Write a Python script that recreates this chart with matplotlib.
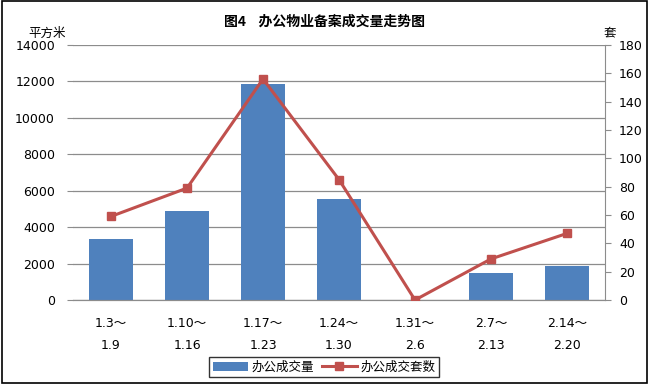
import numpy as np
import matplotlib.pyplot as plt
from matplotlib.patches import Rectangle

plt.rcParams['font.family'] = ['DejaVu Sans', 'Noto Sans CJK SC']

periods = ['1.3～\n1.9', '1.10～\n1.16', '1.17～\n1.23', '1.24～\n1.30',
           '1.31～\n2.6', '2.7～\n2.13', '2.14～\n2.20']
area = [3350, 4900, 11850, 5550, 0, 1480, 1870]
units = [59, 79, 156, 85, 0, 29, 47]

x = np.arange(len(periods))

fig = plt.figure(figsize=(6.49, 3.84), dpi=100)
fig.patches.append(Rectangle((0.003, 0.003), 0.994, 0.994, transform=fig.transFigure,
                             fill=False, edgecolor='black', linewidth=1.2))
ax = fig.add_axes([73/649, 1-300/384, 532/649, 255/384])
ax2 = ax.twinx()

bars = ax.bar(x, area, width=0.58, color='#4F81BD', label='办公成交量', zorder=2)
line, = ax2.plot(x, units, color='#C0504D', linewidth=2.2, marker='s', markersize=6,
                 label='办公成交套数', zorder=3)

ax.set_xlim(-0.5, len(periods) - 0.5)
ax.set_ylim(0, 14000)
ax.set_yticks(np.arange(0, 14001, 2000))
ax2.set_ylim(0, 180)
ax2.set_yticks(np.arange(0, 181, 20))
ax.yaxis.grid(True, color='#8c8c8c', linewidth=0.9)
ax.set_axisbelow(True)

ax.set_xticks(x)
ax.set_xticklabels(periods, fontsize=9, linespacing=1.9)
ax.tick_params(axis='x', length=0, pad=12)
ax.tick_params(axis='y', labelsize=9, length=4, color='#8c8c8c', pad=9)
ax2.tick_params(axis='y', labelsize=9, length=4, color='#8c8c8c', pad=6)

for a in (ax, ax2):
    for s in ('top', 'left'):
        a.spines[s].set_visible(False)
ax.spines['right'].set_visible(False)
ax2.spines['right'].set_color('#8c8c8c')
ax2.spines['bottom'].set_color('#8c8c8c')
ax.spines['bottom'].set_color('#8c8c8c')

fig.text(0.5, 1-22/384, '图4    办公物业备案成交量走势图', ha='center', va='center',
         fontsize=10, fontweight='bold', family=['Noto Sans CJK SC'])
fig.text(47/649, 1-33/384, '平方米', ha='center', va='center', fontsize=9,
         family=['Noto Sans CJK SC'])
fig.text(610/649, 1-33/384, '套', ha='center', va='center', fontsize=9,
         family=['Noto Sans CJK SC'])

leg = fig.legend([bars, line], ['办公成交量', '办公成交套数'], loc='center',
                 bbox_to_anchor=(324/649, 1-367/384), ncol=2, fontsize=9,
                 frameon=True, fancybox=False, edgecolor='black',
                 handlelength=2.8, columnspacing=0.6, handletextpad=0.3,
                 borderpad=0.3, prop={'family': ['Noto Sans CJK SC'], 'size': 9})
leg.get_frame().set_linewidth(1.0)

plt.savefig('out.png', dpi=100)
